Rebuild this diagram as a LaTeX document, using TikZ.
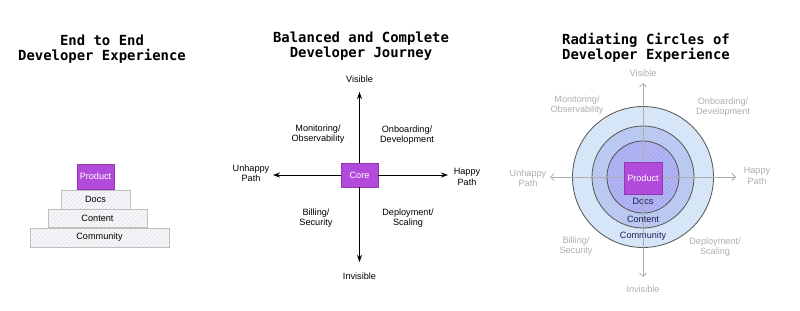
\documentclass[tikz,border=0pt]{standalone}
\usepackage{fontspec}
\setmainfont{Liberation Sans}
\newfontfamily\titlefont{DejaVu Sans Mono}
\usetikzlibrary{arrows.meta,patterns}
\definecolor{purplebox}{HTML}{B24BDB}
\definecolor{layerfill}{HTML}{F5F7FA}
\definecolor{ringout}{HTML}{D4E4F7}
\definecolor{ringmid}{HTML}{B6C6F0}
\definecolor{ringin}{HTML}{A9ACF1}
\definecolor{navytext}{HTML}{1E1E55}
\definecolor{faint}{HTML}{ADADAD}

\begin{document}
\begin{tikzpicture}[x=0.025cm,y=-0.025cm,
    every node/.style={font=\fontsize{6.5}{7.3}\selectfont,align=center,inner sep=0pt},
    ttl/.style={font=\titlefont\bfseries\fontsize{9.9}{10.6}\selectfont},
    sz/.style 2 args={minimum width=#1*0.025cm,minimum height=#2*0.025cm},
    core/.style={fill=purplebox,draw=purplebox!80!black,line width=0.4pt,text=white},
    layer/.style={draw=gray!50,line width=0.5pt,preaction={fill=layerfill},
        pattern=north east lines,pattern color=gray!22},
    ring/.style={circle,draw=black!65,line width=0.6pt,preaction={fill=#1},
        pattern=north east lines,pattern color=white!25!#1},
    axis/.style={line width=0.7pt,-{Stealth[length=5pt,width=3.6pt]}},
    faintaxis/.style={draw=faint,line width=0.6pt,{Straight Barb[length=2.5pt,width=5pt]}-{Straight Barb[length=2.5pt,width=5pt]}},
    grey/.style={text=faint}]
            \useasboundingbox (0,0) rectangle (800,310);

            \node[ttl] (t1) at (102,49.5) {End to End\\Developer Experience};
            \node[ttl] (t2) at (361,46) {Balanced and Complete\\Developer Journey};
            \node[ttl] (t3) at (646,47.5) {Radiating Circles of\\Developer Experience};

            \node[layer,sz={139}{19}] (community) at (99.5,237.5) {Community};
            \node[layer,sz={99}{18}] (content) at (97.5,218) {Content};
            \node[layer,sz={69}{19}] (docs) at (95.5,199.5) {Docs};
            \node[core,sz={37}{25}] (product) at (95.5,176.5) {Product};

            \node[core,sz={37}{24}] (core) at (359.5,175) {Core};
            \coordinate (mtop) at (359.5,92);
            \coordinate (mbot) at (359.5,262);
            \coordinate (mleft) at (273,175);
            \coordinate (mright) at (448,175);
            \path[axis]
            (core.north) edge (mtop)
            (core.south) edge (mbot)
            (core.west) edge (mleft)
            (core.east) edge (mright);
            \node (visible) at (359.5,79) {Visible};
            \node (invisible) at (359.5,276) {Invisible};
            \node (unhappy) at (251,173) {Unhappy\\Path};
            \node (happy) at (467,177) {Happy\\Path};
            \node (monitor) at (318,134) {Monitoring/\\Observability};
            \node (onboard) at (407,135) {Onboarding/\\Development};
            \node (billing) at (316,218) {Billing/\\Security};
            \node (deploy) at (408,218) {Deployment/\\Scaling};

            \node[ring=ringout,minimum size=141*0.025cm] (outer) at (643,177) {};
            \node[ring=ringmid,minimum size=102*0.025cm] (middle) at (643,177) {};
            \node[ring=ringin,minimum size=72*0.025cm] (inner) at (643,177) {};
            \node[text=navytext] (rdocs) at (643,201) {Docs};
            \node[text=navytext] (rcontent) at (643,219) {Content};
            \node[text=navytext] (rcommunity) at (643,236) {Community};
            \coordinate (rtop) at (643,83);
            \coordinate (rbot) at (643,277);
            \coordinate (rleft) at (550,177);
            \coordinate (rright) at (736,177);
            \draw[faintaxis] (rtop) -- (rbot);
            \draw[faintaxis] (rleft) -- (rright);
            \node[core,sz={38}{32}] (rproduct) at (643,178) {Product};
            \node[grey] (rvisible) at (643,73) {Visible};
            \node[grey] (rinvisible) at (643,289) {Invisible};
            \node[grey] (runhappy) at (528,178) {Unhappy\\Path};
            \node[grey] (rhappy) at (757,176) {Happy\\Path};
            \node[grey] (rmonitor) at (577,105) {Monitoring/\\Observability};
            \node[grey] (ronboard) at (723,107) {Onboarding/\\Development};
            \node[grey] (rbilling) at (576,246) {Billing/\\Security};
            \node[grey] (rdeploy) at (715,247) {Deployment/\\Scaling};
            \end{tikzpicture}
\end{document}
